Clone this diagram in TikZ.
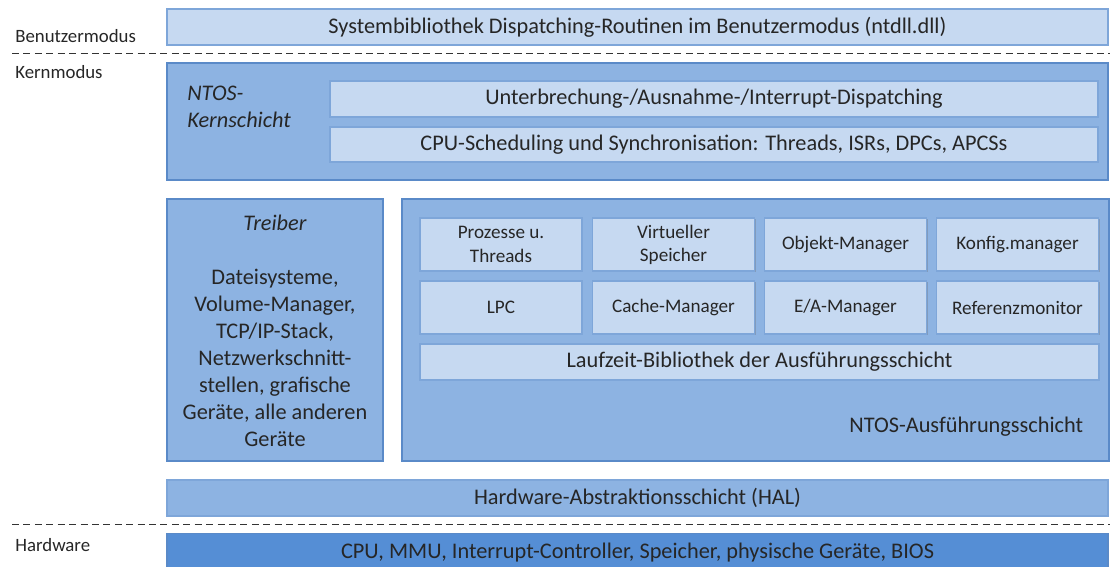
\documentclass[tikz,border=0pt]{standalone}
\usepackage{fontspec}
\setmainfont{Carlito}
\usetikzlibrary{shadows}
\definecolor{hellblau}{HTML}{C6D9F1}
\definecolor{hellrand}{HTML}{7EA6D9}
\definecolor{mittelblau}{HTML}{8DB3E2}
\definecolor{mittelrand}{HTML}{5A8AC8}
\definecolor{dunkelblau}{HTML}{558ED5}
\begin{document}
\begin{tikzpicture}[
  x=0.02cm, y=-0.02cm,
  every node/.style={text=black!85, inner sep=2pt},
  schatten/.style={drop shadow={shadow xshift=0.6pt, shadow yshift=-0.8pt, opacity=0.3, fill=black!60}},
  layer/.style={rectangle, draw=mittelrand, line width=0.8pt, fill=mittelblau, schatten},
  bar/.style={rectangle, draw=hellrand, line width=0.8pt, fill=hellblau, schatten, minimum height=0.72cm, font=\fontsize{12.7}{15}\selectfont},
  modul/.style={rectangle, draw=hellrand, line width=0.8pt, fill=hellblau, schatten, minimum width=3.24cm, minimum height=1.06cm, align=center, font=\fontsize{10.9}{13.2}\selectfont},
  modus/.style={anchor=west, inner sep=0pt, font=\fontsize{10.7}{13}\selectfont},
  trenner/.style={dash pattern=on 4pt off 2.5pt, line width=0.5pt, black!80}
]
\useasboundingbox (0,0) rectangle (1110,567);

% Modes
\node[modus] (benutzer) at (15,36) {Benutzermodus};
\node[modus] (kern) at (15,72) {Kernmodus};
\node[modus] (hw) at (15,545) {Hardware};
\draw[trenner] (12,53) -- (1110,53);
\draw[trenner] (12,524) -- (1110,524);

% User mode
\node[bar, minimum width=18.82cm] (ntdll) at (637.5,27) {Systembibliothek Dispatching-Routinen im Benutzermodus (ntdll.dll)};

% Kernel layer
\node[layer, minimum width=18.82cm, minimum height=2.34cm] (kernschicht) at (637.5,121.5) {};
\node[anchor=north west, align=left, inner sep=0pt, font=\fontsize{12.7}{15.3}\selectfont\itshape] (kerntitel) at (187,86) {NTOS-\\Kernschicht};
\node[bar, minimum width=15.36cm] (dispatch) at (714,99) {Unterbrechung-/Ausnahme-/Interrupt-Dispatching};
\node[bar, minimum width=15.36cm, minimum height=0.70cm] (sched) at (714,144.5) {CPU-Scheduling und Synchronisation: Threads, ISRs, DPCs, APCSs};

% Drivers
\node[layer, minimum width=4.32cm, minimum height=5.24cm] (treiber) at (275,330) {};
\node[font=\fontsize{12.7}{15}\selectfont\itshape] (treibertitel) at (275,223) {Treiber};
\node[align=center, font=\fontsize{12.7}{15.3}\selectfont] (treibertext) at (275,358) {Dateisysteme,\\Volume-Manager,\\TCP/IP-Stack,\\Netzwerkschnitt-\\stellen, grafische\\Geräte, alle anderen\\Geräte};

% Executive
\node[layer, minimum width=14.14cm, minimum height=5.24cm] (ausf) at (755.5,330) {};
\node[modul] (prozesse) at (501,244.5) {Prozesse u.\\Threads};
\node[modul] (virtuell) at (673.5,244.5) {Virtueller\\Speicher};
\node[modul] (objekt) at (845.5,244.5) {Objekt-Manager};
\node[modul] (konfig) at (1017.5,244.5) {Konfig.manager};
\node[modul] (lpc) at (501,307.5) {LPC};
\node[modul] (cache) at (673.5,307.5) {Cache-Manager};
\node[modul] (ea) at (845.5,307.5) {E/A-Manager};
\node[modul] (referenz) at (1017.5,307.5) {Referenzmonitor};
\node[bar, minimum width=13.58cm] (laufzeit) at (759.5,362) {Laufzeit-Bibliothek der Ausführungsschicht};
\node[anchor=east, font=\fontsize{12.7}{15}\selectfont] (ausftitel) at (1087,427) {NTOS-Ausführungsschicht};

% HAL and hardware
\node[layer, draw=hellrand, minimum width=18.82cm, minimum height=0.72cm, font=\fontsize{12.7}{15}\selectfont] (hal) at (637.5,498) {Hardware-Abstraktionsschicht (HAL)};
\node[layer, fill=dunkelblau, minimum width=18.82cm, minimum height=0.78cm, font=\fontsize{12.7}{15}\selectfont] (hardware) at (637.5,553) {CPU, MMU, Interrupt-Controller, Speicher, physische Geräte, BIOS};

\end{tikzpicture}
\end{document}
